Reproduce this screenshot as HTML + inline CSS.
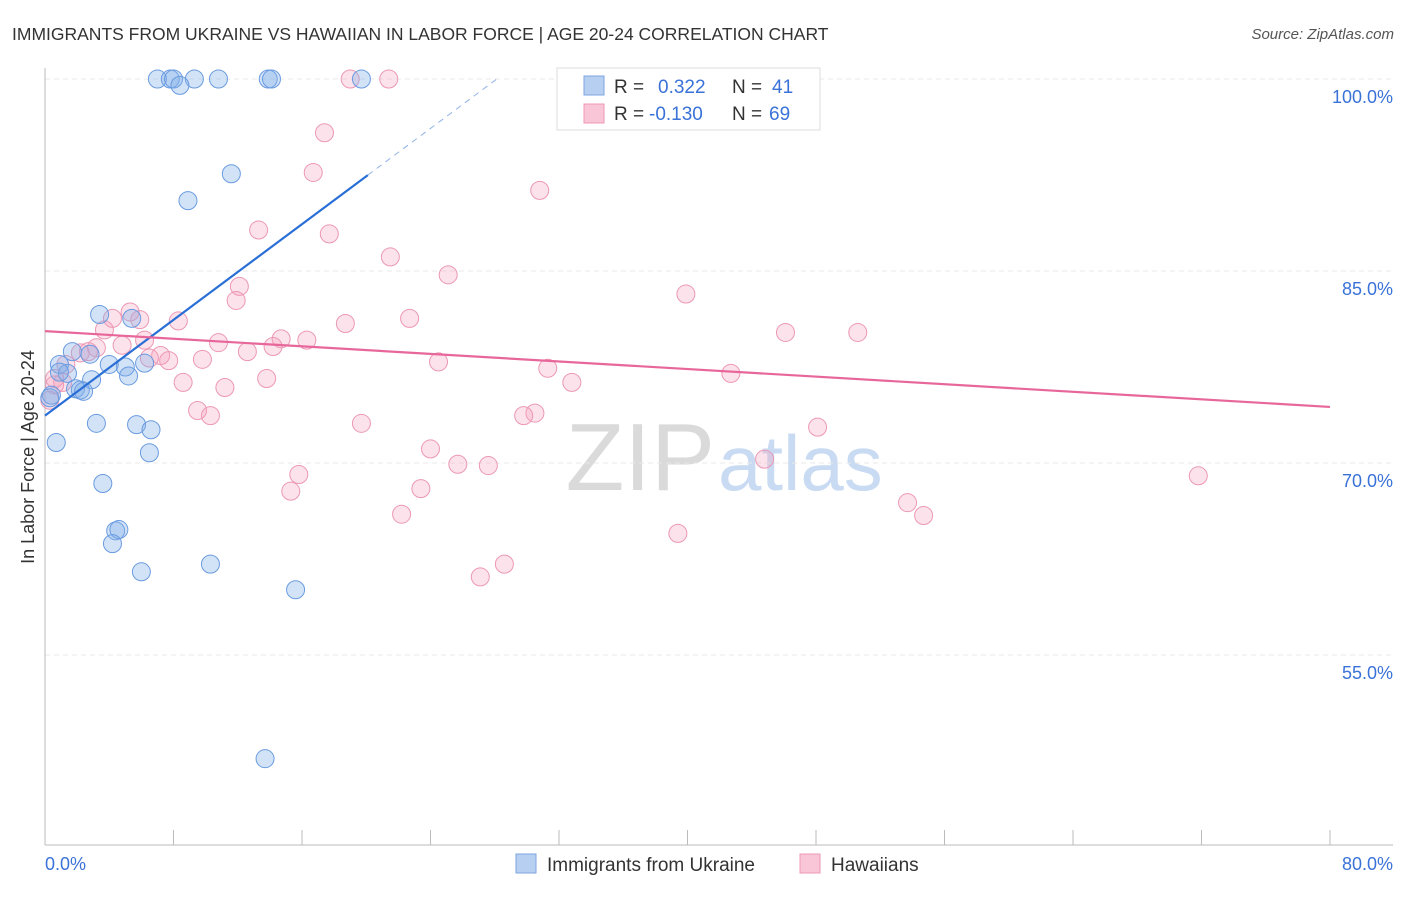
<!DOCTYPE html>
<html><head><meta charset="utf-8"><style>
body{margin:0;background:#fff;font-family:"Liberation Sans",sans-serif;}
svg text{font-family:"Liberation Sans",sans-serif;}
</style></head><body>
<svg id="chart" width="1406" height="892" viewBox="0 0 1406 892" xmlns="http://www.w3.org/2000/svg">
<text x="12" y="40" font-size="17.5" fill="#333">IMMIGRANTS FROM UKRAINE VS HAWAIIAN IN LABOR FORCE | AGE 20-24 CORRELATION CHART</text>
<text x="1394" y="39" font-size="15" fill="#555" text-anchor="end" font-style="italic">Source: ZipAtlas.com</text>
<g>
<text x="715" y="490" font-size="96" fill="#dadada" text-anchor="end" font-family="Liberation Serif,serif">ZIP</text>
<text x="718" y="490" font-size="78" fill="#c9dbf2">atlas</text>
</g>
<g id="grid"></g>
<g id="axes"></g>
<g id="marks"></g>
<g>
<rect x="557" y="68" width="263" height="62" fill="#fff" stroke="#ddd"/>
<rect x="584" y="76" width="20" height="19" fill="#b7d0f2" stroke="#7ea6e0"/>
<rect x="584" y="104" width="20" height="19" fill="#f8c6d6" stroke="#ec98b4"/>
<text x="614" y="93" font-size="19" fill="#333">R =</text>
<text x="658" y="93" font-size="19" fill="#3a72d8">0.322</text>
<text x="732" y="93" font-size="19" fill="#333">N =</text>
<text x="772" y="93" font-size="19" fill="#3a72d8">41</text>
<text x="614" y="120" font-size="19" fill="#333">R =</text>
<text x="649" y="120" font-size="19" fill="#3a72d8">-0.130</text>
<text x="732" y="120" font-size="19" fill="#333">N =</text>
<text x="769" y="120" font-size="19" fill="#3a72d8">69</text>
</g>
<g>
<rect x="516" y="854" width="20" height="19" fill="#b7d0f2" stroke="#7ea6e0"/>
<text x="547" y="871" font-size="19" fill="#333">Immigrants from Ukraine</text>
<rect x="800" y="854" width="20" height="19" fill="#f8c6d6" stroke="#ec98b4"/>
<text x="831" y="871" font-size="19" fill="#333">Hawaiians</text>
</g>
<text transform="translate(34,457) rotate(-90)" font-size="18" fill="#333" text-anchor="middle">In Labor Force | Age 20-24</text>
<text x="45" y="870" font-size="18" fill="#3a72d8">0.0%</text>
<text x="1393" y="870" font-size="18" fill="#3a72d8" text-anchor="end">80.0%</text>
</svg>
<script>
const yTicks=[100,85,70,55];
const yTickLabels=["100.0%","85.0%","70.0%","55.0%"];
const xTicks=[0,8,16,24,32,40,48,56,64,72,80];
const blueX=[7.0,7.8,8.0,9.3,10.8,13.9,14.1,19.7,8.4,11.6,8.9,3.4,5.4,1.7,2.8,0.9,1.4,4.0,5.0,6.2,2.9,5.2,1.9,2.2,2.4,0.4,0.3,3.2,5.7,6.6,0.7,6.5,3.6,4.4,4.6,4.2,6.0,10.3,15.6,13.7,0.9];
const blueY=[100,100,100,100,100,100,100,100,99.5,92.6,90.5,81.6,81.3,78.7,78.5,77.7,77.0,77.7,77.5,77.8,76.5,76.8,75.8,75.7,75.6,75.3,75.1,73.1,73.0,72.6,71.6,70.8,68.4,64.7,64.8,63.7,61.5,62.1,60.1,46.9,77.1];
const pinkX=[21.4,19.0,44.5,34.6,17.4,16.7,30.8,13.3,17.7,21.5,25.1,39.9,12.1,11.9,5.3,4.2,5.9,8.3,18.7,22.7,46.1,50.6,3.7,6.2,14.7,16.3,10.8,4.8,14.2,3.2,2.2,12.6,7.2,7.7,9.8,24.5,31.3,42.7,32.8,13.8,8.6,11.2,1.1,0.6,9.5,10.3,30.5,29.8,19.7,48.1,24.0,44.8,25.7,27.6,15.8,15.3,23.4,71.8,53.7,54.7,22.2,39.4,28.6,27.1,0.3,2.7,6.5,1.3,0.6];
const pinkY=[100,100,100,98.5,95.8,92.7,91.3,88.2,87.9,86.1,84.7,83.2,83.8,82.7,81.8,81.3,81.2,81.1,80.9,81.3,80.2,80.2,80.4,79.6,79.7,79.6,79.4,79.2,79.1,79.0,78.6,78.7,78.4,78.0,78.1,77.9,77.4,77.0,76.3,76.6,76.3,75.9,76.3,76.1,74.1,73.7,73.9,73.7,73.1,72.8,71.1,70.3,69.9,69.8,69.1,67.8,68.0,69.0,66.9,65.9,66.0,64.5,62.1,61.1,74.9,78.7,78.2,77.7,76.6];
const blueTrend=[73.7,0.935];
const pinkTrend=[80.3,-0.074];
const sx=v=>45+v*16.0625, sy=v=>79+(100-v)*12.8;
const NS="http://www.w3.org/2000/svg";
function mk(parent,tag,attrs){const e=document.createElementNS(NS,tag);for(const k in attrs)e.setAttribute(k,attrs[k]);document.getElementById(parent).appendChild(e);return e;}
yTicks.forEach((t,i)=>{
 const l=mk('grid','line',{x1:45,x2:1393,y1:sy(t),y2:sy(t),stroke:'#e8e8e8','stroke-dasharray':'5,4'});
 
 
 const tx=mk('grid','text',{x:1393,y:sy(t)+24,'font-size':18,fill:'#3a72d8','text-anchor':'end'});
 tx.textContent=yTickLabels[i];
 
 
});
const ax=mk('axes','line',{x1:45,x2:45,y1:68,y2:845,stroke:'#bbb'});


const bx=mk('axes','line',{x1:45,x2:1393,y1:845,y2:845,stroke:'#bbb'});


xTicks.forEach(t=>{
 const l=mk('axes','line',{x1:sx(t),x2:sx(t),y1:830,y2:845,stroke:'#bbb'});
 
 
});
pinkX.forEach((x,i)=>{
 const c=mk('marks','circle',{cx:sx(x),cy:sy(pinkY[i]),r:9,fill:'rgba(244,160,190,0.3)',stroke:'#ec98b4','stroke-width':1});
 
 
});
blueX.forEach((x,i)=>{
 const c=mk('marks','circle',{cx:sx(x),cy:sy(blueY[i]),r:9,fill:'rgba(130,175,232,0.35)',stroke:'#6a9be0','stroke-width':1});
 
 
});
const bl=mk('marks','line',{x1:sx(0),y1:sy(blueTrend[0]),x2:sx(20.1),y2:sy(blueTrend[0]+blueTrend[1]*20.1),stroke:'#2a6fd6','stroke-width':2.2});


const xe=(100-blueTrend[0])/blueTrend[1];
const bd=mk('marks','line',{x1:sx(20.1),y1:sy(blueTrend[0]+blueTrend[1]*20.1),x2:sx(xe),y2:sy(100),stroke:'#8fb2e6','stroke-width':1,'stroke-dasharray':'6,5'});


const pl=mk('marks','line',{x1:sx(0),y1:sy(pinkTrend[0]),x2:sx(80),y2:sy(pinkTrend[0]+pinkTrend[1]*80),stroke:'#e8679a','stroke-width':2.2});


</script>
</body></html>
